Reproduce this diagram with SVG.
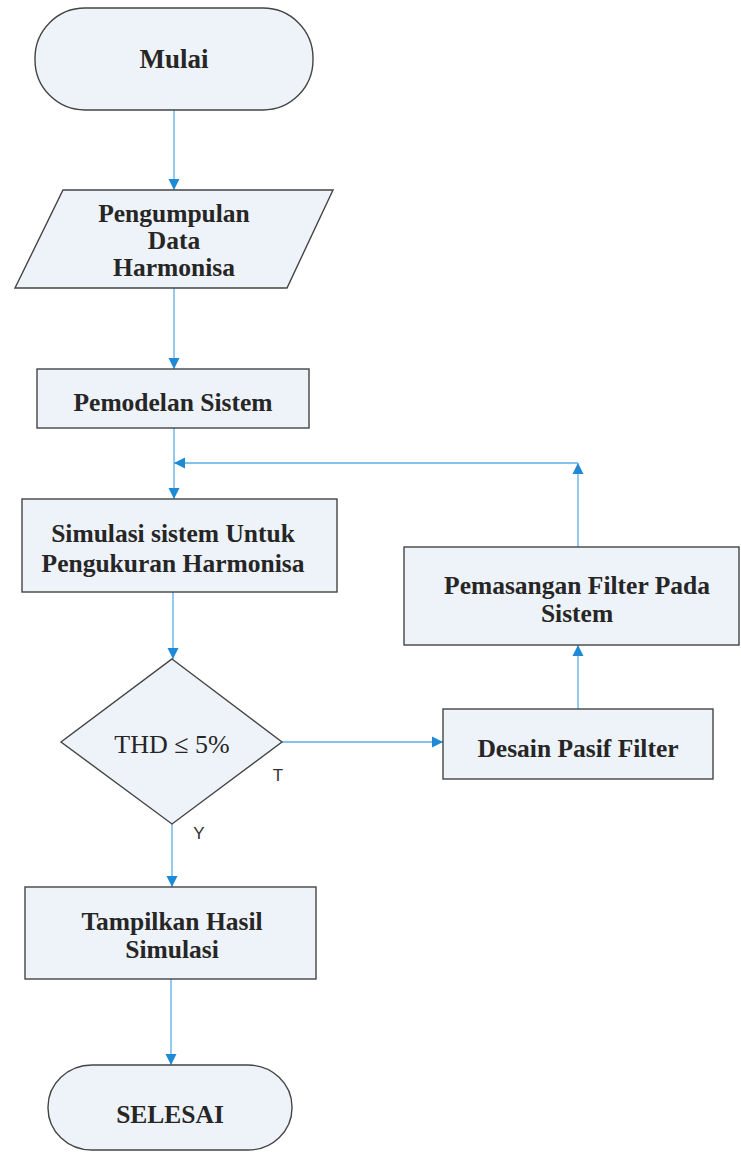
<svg xmlns="http://www.w3.org/2000/svg" width="741" height="1152" viewBox="0 0 741 1152">
  <defs>
    <style>
      .shape { fill: #eef3f9; stroke: #444; stroke-width: 1.4; }
      .t { font-family: "Liberation Serif", "Times New Roman", serif; font-weight: bold; font-size: 25.5px; fill: #262626; text-anchor: middle; }
      .tr { font-family: "Liberation Serif", "Times New Roman", serif; font-size: 26px; fill: #262626; text-anchor: middle; }
      .lbl { font-family: "Liberation Sans", Arial, sans-serif; font-size: 17px; fill: #333; text-anchor: middle; }
      .c { fill: none; stroke: #5aaee3; stroke-width: 1.3; }
    </style>
    <marker id="arr" markerWidth="12" markerHeight="12" refX="11" refY="6" orient="auto" markerUnits="userSpaceOnUse">
      <path d="M0,0.5 L11,6 L0,11.5 Z" fill="#1e8ad6"/>
    </marker>
  </defs>
  <rect width="741" height="1152" fill="#ffffff"/>

  <g id="connectors">
    <line class="c" x1="174" y1="110" x2="174" y2="190" marker-end="url(#arr)"/>
    <line class="c" x1="174" y1="288" x2="174" y2="369" marker-end="url(#arr)"/>
    <line class="c" x1="174" y1="428" x2="174" y2="499" marker-end="url(#arr)"/>
    <line class="c" x1="173" y1="592" x2="173" y2="659" marker-end="url(#arr)"/>
    <line class="c" x1="282" y1="742" x2="443" y2="742" marker-end="url(#arr)"/>
    <line class="c" x1="172" y1="824" x2="172" y2="887" marker-end="url(#arr)"/>
    <line class="c" x1="171" y1="979" x2="171" y2="1065" marker-end="url(#arr)"/>
    <line class="c" x1="578" y1="709" x2="578" y2="645" marker-end="url(#arr)"/>
    <line class="c" x1="578" y1="547" x2="578" y2="463" marker-end="url(#arr)"/>
    <line class="c" x1="578" y1="463" x2="174" y2="463" marker-end="url(#arr)"/>
    <text class="lbl" x="278" y="781">T</text>
    <text class="lbl" x="199" y="839">Y</text>
  </g>

  <g id="mulai">
    <rect class="shape" x="35" y="8" width="278" height="102" rx="50" ry="50"/>
    <text class="t" x="174" y="68" style="font-size:27px">Mulai</text>
  </g>

  <g id="pengumpulan">
    <polygon class="shape" points="63,190 333,190 287,288 15,288"/>
    <text class="t" x="174" y="222">Pengumpulan</text>
    <text class="t" x="174" y="249">Data</text>
    <text class="t" x="174" y="276">Harmonisa</text>
  </g>

  <g id="pemodelan">
    <rect class="shape" x="37" y="369" width="272" height="59"/>
    <text class="t" x="173" y="411">Pemodelan Sistem</text>
  </g>

  <g id="simulasi">
    <rect class="shape" x="22" y="499" width="315" height="93"/>
    <text class="t" x="173" y="542">Simulasi sistem Untuk</text>
    <text class="t" x="173" y="572">Pengukuran Harmonisa</text>
  </g>

  <g id="thd">
    <polygon class="shape" points="172,659 282,742 172,824 61,742"/>
    <text class="tr" x="172" y="753">THD ≤ 5%</text>
  </g>

  <g id="desain">
    <rect class="shape" x="443" y="709" width="270" height="70"/>
    <text class="t" x="578" y="757">Desain Pasif Filter</text>
  </g>

  <g id="pemasangan">
    <rect class="shape" x="404" y="547" width="335" height="98"/>
    <text class="t" x="577" y="594">Pemasangan Filter Pada</text>
    <text class="t" x="577" y="622">Sistem</text>
  </g>

  <g id="tampilkan">
    <rect class="shape" x="25" y="887" width="291" height="92"/>
    <text class="t" x="172" y="930">Tampilkan Hasil</text>
    <text class="t" x="172" y="958">Simulasi</text>
  </g>

  <g id="selesai">
    <rect class="shape" x="48" y="1065" width="244" height="85" rx="44" ry="42"/>
    <text class="t" x="170" y="1123">SELESAI</text>
  </g>
</svg>
